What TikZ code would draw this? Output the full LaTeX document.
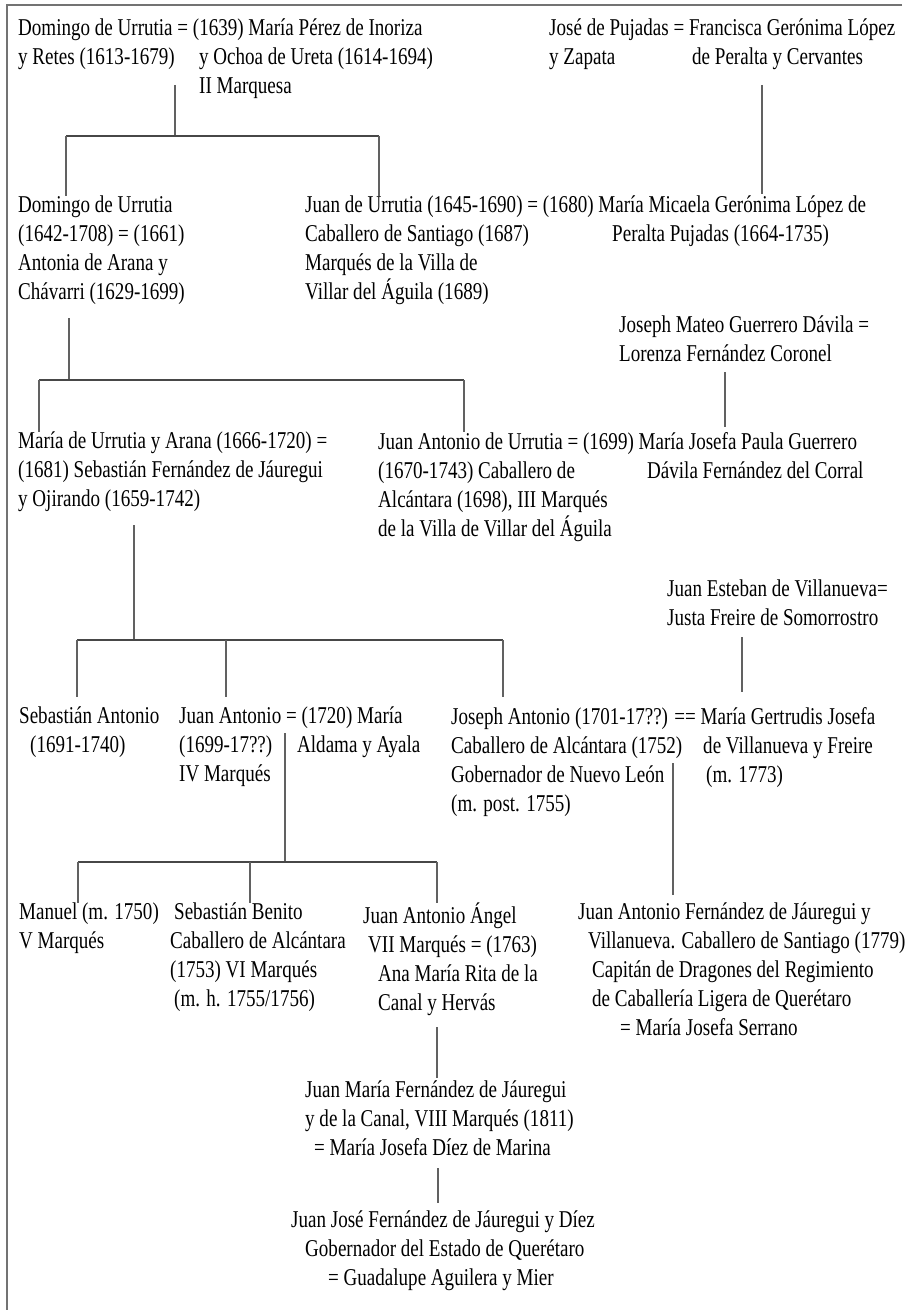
\documentclass[tikz,border=0pt]{standalone}
\usepackage{fontspec}
\setmainfont{Liberation Serif}[FakeStretch=0.79]
\usetikzlibrary{calc}

\newcommand{\col}[2]{\makebox[#1bp][l]{#2}}
\newcommand{\sang}[1]{\hspace*{#1bp}}

\begin{document}
\begin{tikzpicture}[x=1bp, y=-1bp,
    persona/.style={anchor=north west, align=left, inner sep=0pt,
      font=\fontsize{24.2}{29.1}\selectfont, execute at begin node=\strut},
    rama/.style={draw=black!72, line width=1.8bp},
    baja/.style={draw=black!62, line width=1.1bp},
    marco/.style={draw=black!55, line width=2bp}]
          \useasboundingbox (0, 0) rectangle (907, 1310);%
          \draw [marco] (902, 5) -- (7, 5) -- (7, 1310);%
          \node [persona] (a) at (18, 19) {Domingo de Urrutia = (1639) María Pérez de Inoriza\\%
            \col{181}{y Retes (1613-1679)}y Ochoa de Ureta (1614-1694)\\%
            \sang{181}II Marquesa};%
          \node [persona] (b) at (549, 19) {José de Pujadas = Francisca Gerónima López\\%
            \col{143}{y Zapata}de Peralta y Cervantes};%
          \node [persona] (c) at (18, 196) {Domingo de Urrutia\\%
            (1642-1708) = (1661)\\Antonia de Arana y\\Chávarri (1629-1699)};%
          \node [persona] (d) at (305, 196) {Juan de Urrutia (1645-1690) = (1680) María Micaela Gerónima López de\\%
            \col{307}{Caballero de Santiago (1687)}Peralta Pujadas (1664-1735)\\%
            Marqués de la Villa de\\Villar del Águila (1689)};%
          \node [persona] (e) at (619, 316) {Joseph Mateo Guerrero Dávila =\\%
            Lorenza Fernández Coronel};%
          \node [persona] (f) at (18, 432) {María de Urrutia y Arana (1666-1720) =\\%
            (1681) Sebastián Fernández de Jáuregui\\y Ojirando (1659-1742)};%
          \node [persona] (g) at (378, 432) {Juan Antonio de Urrutia = (1699) María Josefa Paula Guerrero\\%
            \col{269}{(1670-1743) Caballero de}Dávila Fernández del Corral\\%
            Alcántara (1698), III Marqués\\de la Villa de Villar del Águila};%
          \node [persona] (h) at (667, 580) {Juan Esteban de Villanueva=\\%
            Justa Freire de Somorrostro};%
          \node [persona] (i) at (19, 707) {Sebastián Antonio\\%
            \sang{11}(1691-1740)};%
          \node [persona] (j) at (179, 707) {Juan Antonio = (1720) María\\%
            \col{118}{(1699-17??)}Aldama y Ayala\\IV Marqués};%
          \node [persona] (k) at (451, 707) {Joseph Antonio (1701-17??) == María Gertrudis Josefa\\%
            \col{252}{Caballero de Alcántara (1752)}de Villanueva y Freire\\%
            \col{255}{Gobernador de Nuevo León}(m. 1773)\\(m. post. 1755)};%
          \node [persona] (l) at (19, 903) {Manuel (m. 1750)\\V Marqués};%
          \node [persona] (m) at (170, 903) {\sang{4}Sebastián Benito\\%
            Caballero de Alcántara\\(1753) VI Marqués\\\sang{4}(m. h. 1755/1756)};%
          \node [persona] (n) at (363, 903) {Juan Antonio Ángel\\%
            \sang{5}VII Marqués = (1763)\\\sang{15}Ana María Rita de la\\\sang{15}Canal y Hervás};%
          \node [persona] (o) at (578, 903) {Juan Antonio Fernández de Jáuregui y\\%
            \sang{10}Villanueva. Caballero de Santiago (1779)\\%
            \sang{14}Capitán de Dragones del Regimiento\\%
            \sang{14}de Caballería Ligera de Querétaro\\%
            \sang{42}= María Josefa Serrano};%
          \node [persona] (p) at (305, 1081) {Juan María Fernández de Jáuregui\\%
            y de la Canal, VIII Marqués (1811)\\\sang{9}= María Josefa Díez de Marina};%
          \node [persona] (q) at (291, 1211) {Juan José Fernández de Jáuregui y Díez\\%
            \sang{14}Gobernador del Estado de Querétaro\\\sang{37}= Guadalupe Aguilera y Mier};%
          \coordinate (a-s) at (175, 85);%
          \coordinate (r1) at (175, 136);%
          \coordinate (r1-c) at (66, 136);%
          \coordinate (r1-d) at (379, 136);%
          \coordinate (b-s) at (762, 85);%
          \draw [baja] (a-s) -- (r1);%
          \draw [rama] (r1-c) -- (r1-d);%
          \draw [baja] (r1-c) -- (r1-c |- c.north);%
          \draw [baja] (r1-d) -- (r1-d |- d.north);%
          \draw [baja, shorten >=2bp] (b-s) -- (b-s |- d.north);%
          \coordinate (c-s) at (69, 318);%
          \coordinate (r2) at (69, 380);%
          \coordinate (r2-f) at (39, 380);%
          \coordinate (r2-g) at (464, 380);%
          \coordinate (e-s) at (725, 372);%
          \draw [baja] (c-s) -- (r2);%
          \draw [rama] (r2-f) -- (r2-g);%
          \draw [baja] (r2-f) -- (r2-f |- f.north);%
          \draw [baja] (r2-g) -- (r2-g |- g.north);%
          \draw [baja, shorten >=5bp] (e-s) -- (e-s |- g.north);%
          \coordinate (f-s) at (134, 525);%
          \coordinate (r3) at (134, 640);%
          \coordinate (r3-i) at (77, 640);%
          \coordinate (r3-j) at (226, 640);%
          \coordinate (r3-k) at (503, 640);%
          \coordinate (h-s) at (742, 637);%
          \draw [baja] (f-s) -- (r3);%
          \draw [rama] (r3-i) -- (r3-k);%
          \draw [baja, shorten >=10bp] (r3-i) -- (r3-i |- i.north);%
          \draw [baja, shorten >=10bp] (r3-j) -- (r3-j |- j.north);%
          \draw [baja, shorten >=10bp] (r3-k) -- (r3-k |- k.north);%
          \draw [baja, shorten >=15bp] (h-s) -- (h-s |- k.north);%
          \coordinate (j-s) at (285, 733);%
          \coordinate (r4) at (285, 862);%
          \coordinate (r4-l) at (78, 862);%
          \coordinate (r4-m) at (250, 862);%
          \coordinate (r4-n) at (437, 862);%
          \coordinate (k-s) at (673, 763);%
          \draw [baja] (j-s) -- (r4);%
          \draw [rama] (r4-l) -- (r4-n);%
          \draw [baja] (r4-l) -- (r4-l |- l.north);%
          \draw [baja] (r4-m) -- (r4-m |- m.north);%
          \draw [baja] (r4-n) -- (r4-n |- n.north);%
          \draw [baja, shorten >=8bp] (k-s) -- (k-s |- o.north);%
          \coordinate (n-s) at (437, 1027);%
          \coordinate (p-s) at (438, 1168);%
          \draw [baja, shorten >=3bp] (n-s) -- (n-s |- p.north);%
          \draw [baja, shorten >=8bp] (p-s) -- (p-s |- q.north);%
        \end{tikzpicture}
\end{document}
